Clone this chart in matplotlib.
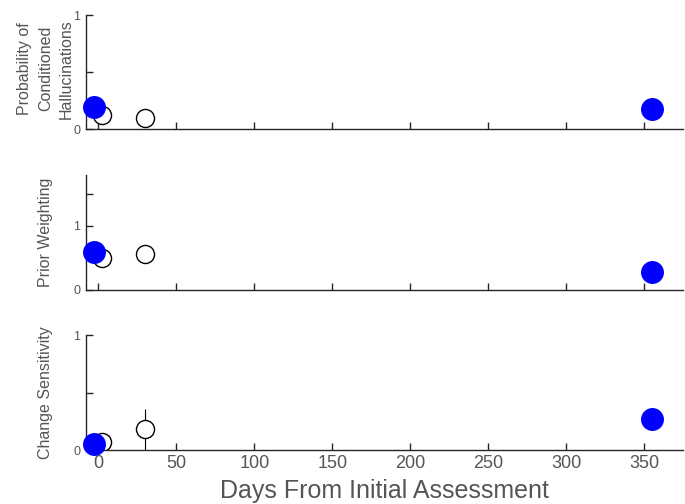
import matplotlib
matplotlib.use("Agg")
import matplotlib.pyplot as plt

plt.rcParams['font.family'] = ['Liberation Sans', 'DejaVu Sans']

# days of each assessment
days_open = [2, 30]
days_blue = [-3, 355]

# panel values (open circles with error bars, filled blue circles)
halluc_open = [0.12, 0.10]
halluc_err = [0.05, 0.03]
halluc_blue = [0.19, 0.175]

prior_open = [0.50, 0.56]
prior_err = [0.07, 0.10]
prior_blue = [0.59, 0.28]

change_open = [0.07, 0.18]
change_err = [0.03, 0.18]
change_blue = [0.05, 0.27]

ylabels = ['Probability of\nConditioned\nHallucinations', 'Prior Weighting', 'Change Sensitivity']
xticks = [0, 50, 100, 150, 200, 250, 300, 350]

panels = [
    (halluc_open, halluc_err, halluc_blue, (0, 1), [0, 0.5, 1], ['0', '', '1']),
    (prior_open, prior_err, prior_blue, (0, 1.8), [0, 1, 1.5], ['0', '1', '']),
    (change_open, change_err, change_blue, (0, 1), [0, 0.5, 1], ['0', '', '1']),
]
boxes = [(0.1255, 0.744, 0.872, 0.226),
         (0.1255, 0.425, 0.872, 0.228),
         (0.1255, 0.107, 0.872, 0.228)]

fig = plt.figure(figsize=(6.85, 5.04), dpi=100)
axc = '#262626'
tc = '#555555'

for i, (vo, ve, vb, yl, yt, ytl) in enumerate(panels):
    ax = fig.add_axes(boxes[i])
    ax.errorbar(days_open, vo, yerr=ve, fmt='o', mfc='white', mec='black',
                ecolor='black', elinewidth=0.8, capsize=0, ms=13, mew=1.0, zorder=2)
    ax.plot(days_blue, vb, 'o', color='blue', ms=15.5, zorder=3, clip_on=False)
    ax.set_xlim(-8, 375)
    ax.set_ylim(*yl)
    ax.set_yticks(yt)
    ax.set_yticklabels(ytl)
    ax.set_xticks(xticks)
    for s in ['top', 'right']:
        ax.spines[s].set_visible(False)
    for s in ['left', 'bottom']:
        ax.spines[s].set_color(axc)
        ax.spines[s].set_linewidth(1.0)
    ax.tick_params(direction='in', length=5, color=axc, width=1.0)
    ax.tick_params(axis='y', labelsize=9, labelcolor=tc, pad=4)
    ax.tick_params(axis='x', labelsize=13, labelcolor=tc)
    ax.set_ylabel(ylabels[i], fontsize=11.5, color=tc, linespacing=1.5, va='center')
    ax.yaxis.set_label_coords(-0.068, 0.5 if i else 0.53)
    if i < 2:
        ax.set_xticklabels([])
    else:
        ax.set_xlabel('Days From Initial Assessment', fontsize=18, color=tc, labelpad=5)

fig.savefig('out.png', dpi=100)
